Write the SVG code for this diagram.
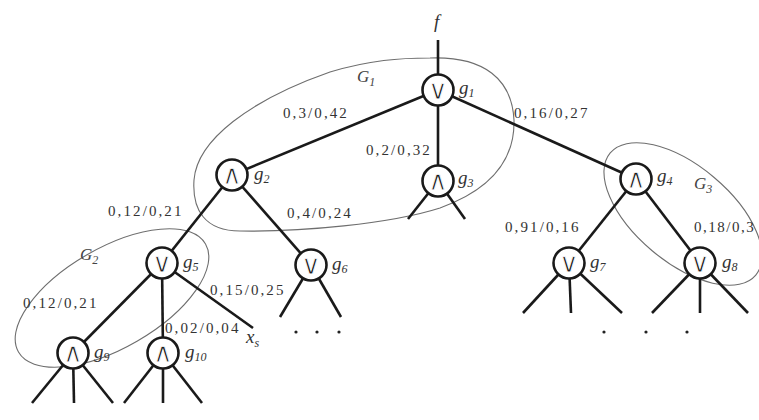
<svg xmlns="http://www.w3.org/2000/svg" width="759" height="420" viewBox="0 0 759 420">
<style>
.e{stroke:#1a1a1a;stroke-width:2.6;fill:none;stroke-linecap:butt}
.n{fill:#fff;stroke:#1a1a1a;stroke-width:2.6}
.op{font-family:"DejaVu Sans",sans-serif;font-size:27px;fill:#1a1a1a;stroke:#fff;stroke-width:0.9px;text-anchor:middle}
.g{font-family:"Liberation Serif","DejaVu Serif","Times New Roman",serif;font-style:italic;font-size:19px;fill:#333}
.s{font-size:12px}
.w{font-family:"Liberation Serif","DejaVu Serif","Times New Roman",serif;font-size:15px;fill:#333;letter-spacing:2.1px}
.grp{fill:none;stroke:#6e6e6e;stroke-width:1.1}
.G{font-family:"Liberation Serif","DejaVu Serif","Times New Roman",serif;font-style:italic;font-size:17px;fill:#444}
.dot{fill:#222}
</style>
<rect width="759" height="420" fill="#fff"/>
<g id="groups">
<path class="grp" d="M 430 58 C 485 56, 512 80, 514 120 C 515 160, 490 190, 440 208 C 390 224, 300 232, 240 231 C 205 231, 192 210, 194 180 C 197 140, 250 100, 330 72 C 370 60, 400 58, 430 58 Z"/>
<ellipse class="grp" cx="112" cy="298" rx="108" ry="50" transform="rotate(-30 112 298)"/>
<ellipse class="grp" cx="683" cy="214" rx="95" ry="48" transform="rotate(40 683 214)"/>
<text class="G" x="357" y="82">G<tspan class="s" dy="4">1</tspan></text>
<text class="G" x="80" y="260">G<tspan class="s" dy="4">2</tspan></text>
<text class="G" x="694" y="189">G<tspan class="s" dy="4">3</tspan></text>
</g>
<g id="connectors">
<line class="e" x1="438" y1="40" x2="438" y2="90"/>
<line class="e" x1="438" y1="90" x2="232" y2="175"/>
<line class="e" x1="438" y1="90" x2="438" y2="181"/>
<line class="e" x1="438" y1="90" x2="636" y2="179"/>
<line class="e" x1="232" y1="175" x2="162" y2="263"/>
<line class="e" x1="232" y1="175" x2="311" y2="265"/>
<line class="e" x1="438" y1="181" x2="408" y2="219"/>
<line class="e" x1="438" y1="181" x2="465" y2="219"/>
<line class="e" x1="636" y1="179" x2="569" y2="263"/>
<line class="e" x1="636" y1="179" x2="700" y2="263"/>
<line class="e" x1="569" y1="263" x2="523" y2="313"/>
<line class="e" x1="569" y1="263" x2="571" y2="313"/>
<line class="e" x1="569" y1="263" x2="622" y2="313"/>
<line class="e" x1="700" y1="263" x2="652" y2="313"/>
<line class="e" x1="700" y1="263" x2="700" y2="313"/>
<line class="e" x1="700" y1="263" x2="748" y2="313"/>
<line class="e" x1="162" y1="263" x2="73" y2="353"/>
<line class="e" x1="162" y1="263" x2="163" y2="353"/>
<line class="e" x1="162" y1="263" x2="253" y2="328"/>
<line class="e" x1="311" y1="265" x2="280" y2="317"/>
<line class="e" x1="311" y1="265" x2="341" y2="317"/>
<line class="e" x1="73" y1="353" x2="32" y2="403"/>
<line class="e" x1="73" y1="353" x2="74" y2="403"/>
<line class="e" x1="73" y1="353" x2="113" y2="403"/>
<line class="e" x1="163" y1="353" x2="124" y2="403"/>
<line class="e" x1="163" y1="353" x2="163" y2="403"/>
<line class="e" x1="163" y1="353" x2="202" y2="403"/>
<text class="w" x="283" y="118">0,3/0,42</text>
<text class="w" x="366" y="155">0,2/0,32</text>
<text class="w" x="514" y="118">0,16/0,27</text>
<text class="w" x="108" y="216">0,12/0,21</text>
<text class="w" x="287" y="218">0,4/0,24</text>
<text class="w" x="210" y="295">0,15/0,25</text>
<text class="w" x="23" y="308">0,12/0,21</text>
<text class="w" x="165" y="333">0,02/0,04</text>
<text class="w" x="505" y="232">0,91/0,16</text>
<text class="w" x="694" y="232" style="letter-spacing:1.5px">0,18/0,3</text>
</g>
<g id="f"><text class="g" x="434" y="28">f</text></g>
<g id="xs"><text class="g" x="246" y="343">x<tspan class="s" dy="4">s</tspan></text></g>
<g id="dots">
<circle class="dot" cx="296" cy="332" r="1.6"/><circle class="dot" cx="317" cy="332" r="1.6"/><circle class="dot" cx="339" cy="332" r="1.6"/>
<circle class="dot" cx="604" cy="332" r="1.6"/><circle class="dot" cx="646" cy="332" r="1.6"/><circle class="dot" cx="687" cy="332" r="1.6"/>
</g>
<g id="g1"><circle class="n" cx="438" cy="90" r="15.5"/><text class="op" x="438" y="99">∨</text><text class="g" x="459" y="94">g<tspan class="s" dy="3">1</tspan></text></g>
<g id="g2"><circle class="n" cx="232" cy="175" r="15.5"/><text class="op" x="232" y="184">∧</text><text class="g" x="254" y="180">g<tspan class="s" dy="3">2</tspan></text></g>
<g id="g3"><circle class="n" cx="438" cy="181" r="15.5"/><text class="op" x="438" y="190">∧</text><text class="g" x="458" y="184">g<tspan class="s" dy="3">3</tspan></text></g>
<g id="g4"><circle class="n" cx="636" cy="179" r="15.5"/><text class="op" x="636" y="188">∧</text><text class="g" x="657" y="182">g<tspan class="s" dy="3">4</tspan></text></g>
<g id="g5"><circle class="n" cx="162" cy="263" r="15.5"/><text class="op" x="162" y="272">∨</text><text class="g" x="183" y="268">g<tspan class="s" dy="3">5</tspan></text></g>
<g id="g6"><circle class="n" cx="311" cy="265" r="15.5"/><text class="op" x="311" y="274">∨</text><text class="g" x="332" y="270">g<tspan class="s" dy="3">6</tspan></text></g>
<g id="g7"><circle class="n" cx="569" cy="263" r="15.5"/><text class="op" x="569" y="272">∨</text><text class="g" x="590" y="268">g<tspan class="s" dy="3">7</tspan></text></g>
<g id="g8"><circle class="n" cx="700" cy="263" r="15.5"/><text class="op" x="700" y="272">∨</text><text class="g" x="722" y="268">g<tspan class="s" dy="3">8</tspan></text></g>
<g id="g9"><circle class="n" cx="73" cy="353" r="15.5"/><text class="op" x="73" y="362">∧</text><text class="g" x="94" y="358">g<tspan class="s" dy="3">9</tspan></text></g>
<g id="g10"><circle class="n" cx="163" cy="353" r="15.5"/><text class="op" x="163" y="362">∧</text><text class="g" x="185" y="358">g<tspan class="s" dy="3">10</tspan></text></g>
</svg>
